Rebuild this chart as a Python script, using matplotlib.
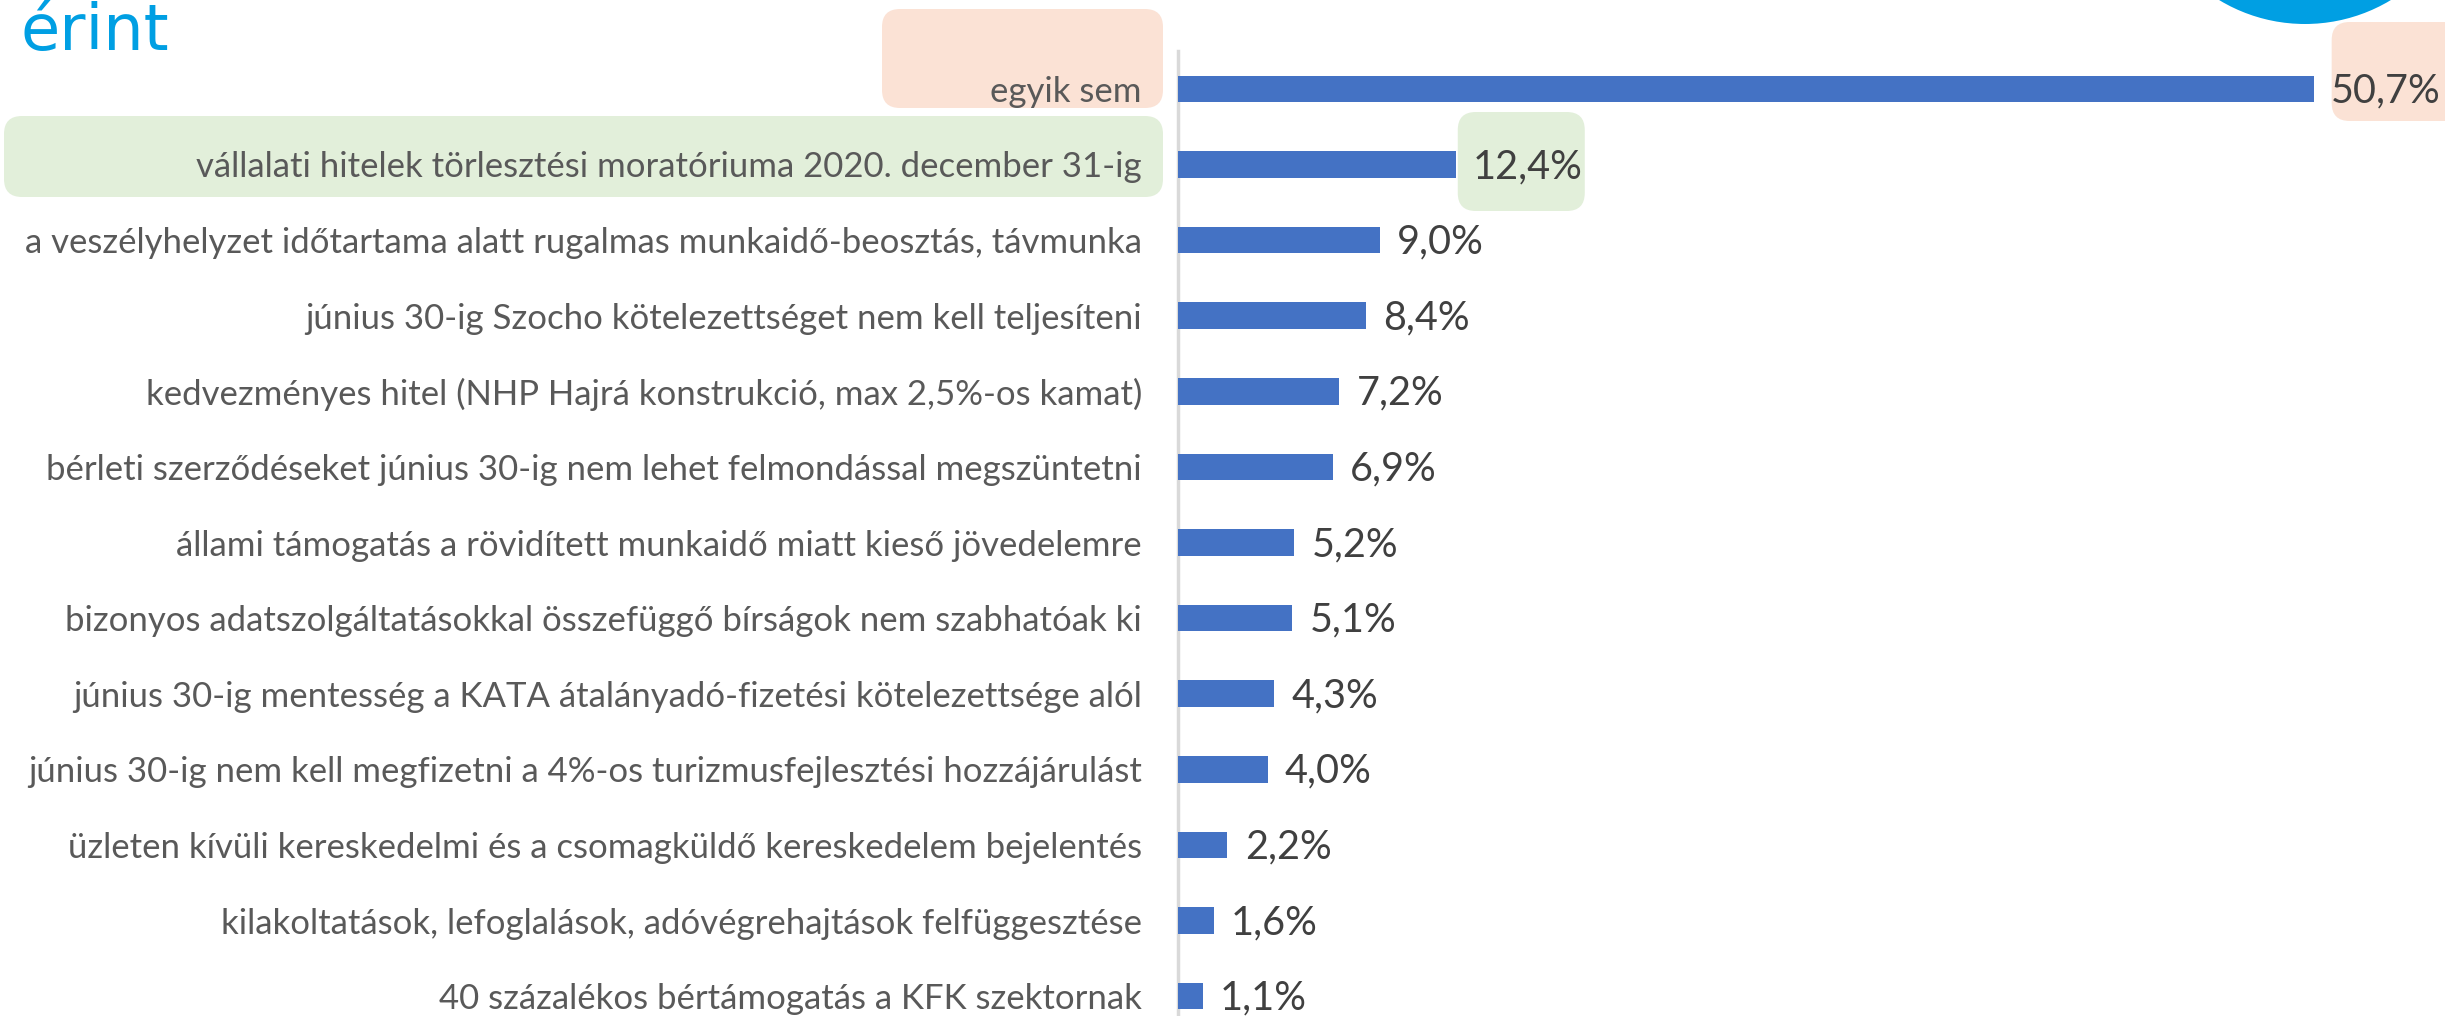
import numpy as np
import matplotlib.pyplot as plt
from matplotlib.patches import FancyBboxPatch, Circle

# data, top to bottom
categories = [
    "egyik sem",
    "vállalati hitelek törlesztési moratóriuma 2020. december 31-ig",
    "a veszélyhelyzet időtartama alatt rugalmas munkaidő-beosztás, távmunka",
    "június 30-ig Szocho kötelezettséget nem kell teljesíteni",
    "kedvezményes hitel (NHP Hajrá konstrukció, max 2,5%-os kamat)",
    "bérleti szerződéseket június 30-ig nem lehet felmondással megszüntetni",
    "állami támogatás a rövidített munkaidő miatt kieső jövedelemre",
    "bizonyos adatszolgáltatásokkal összefüggő bírságok nem szabhatóak ki",
    "június 30-ig mentesség a KATA átalányadó-fizetési kötelezettsége alól",
    "június 30-ig nem kell megfizetni a 4%-os turizmusfejlesztési hozzájárulást",
    "üzleten kívüli kereskedelmi és a csomagküldő kereskedelem bejelentés",
    "kilakoltatások, lefoglalások, adóvégrehajtások felfüggesztése",
    "40 százalékos bértámogatás a KFK szektornak",
]
values = [50.7, 12.4, 9.0, 8.4, 7.2, 6.9, 5.2, 5.1, 4.3, 4.0, 2.2, 1.6, 1.1]
title_text = "érint"

BLUE = "#4472C4"
TITLE_BLUE = "#009FE3"
PEACH = "#FBE2D5"
GREEN = "#E2EFDA"
W, H = 2445, 1016

plt.rcParams['font.family'] = ['Lato', 'DejaVu Sans']
fig = plt.figure(figsize=(W / 100, H / 100), dpi=100)

# axes placed in pixels (bottom part cropped like the source slide)
ax_left, ax_top, ax_bot, ax_w = 1178, 51, 1034, 1232
ax = fig.add_axes([ax_left / W, (H - ax_bot) / H, ax_w / W, (ax_bot - ax_top) / H])

y = np.arange(len(values))
ax.barh(y, values, height=0.35, color=BLUE, zorder=3)
ax.set_ylim(len(values) - 0.5, -0.5)
ax.set_xlim(0, 55)
ax.set_yticks(y)
ax.set_yticklabels(categories, fontsize=25, color="#595959")
ax.tick_params(axis='y', length=0, pad=26)
ax.set_xticks([])
for s in ['top', 'right', 'bottom']:
    ax.spines[s].set_visible(False)
ax.spines['left'].set_color("#D9D9D9")
ax.spines['left'].set_linewidth(2.5)
ax.patch.set_visible(False)

for i, v in enumerate(values):
    ax.annotate(f"{v:.1f}%".replace('.', ','), (v, i), xytext=(12.5, -1.5),
                textcoords='offset points', va='center', ha='left',
                fontsize=28.5, color="#404040", zorder=5)

# highlight boxes (pixel coords, y from top), drawn behind the axes
def rbox(x0, y0, x1, y1, color):
    p = FancyBboxPatch((x0, H - y1), x1 - x0, y1 - y0,
                       boxstyle="round,pad=0,rounding_size=18",
                       transform=None, facecolor=color, edgecolor='none', zorder=-1)
    fig.patches.append(p)

rbox(882, 9, 1163, 108, PEACH)
rbox(4, 116, 1163, 197, GREEN)

# boxes behind the value labels, anchored at bar ends
x0_pk = ax.transData.transform((values[0], 0))[0] + 18
x0_gr = ax.transData.transform((values[1], 1))[0] + 2
rbox(x0_pk, 22, 2480, 121, PEACH)
rbox(x0_gr, 112, x0_gr + 127, 211, GREEN)

# title fragment and decorative circle
fig.text(21 / W, 1 - 50 / H, title_text, fontsize=46, color=TITLE_BLUE,
         family='DejaVu Sans', va='baseline', ha='left')
fig.patches.append(Circle((2305, H + 142), 166, transform=None,
                          facecolor=TITLE_BLUE, edgecolor='none', zorder=-1))

fig.savefig("out.png", dpi=100)
